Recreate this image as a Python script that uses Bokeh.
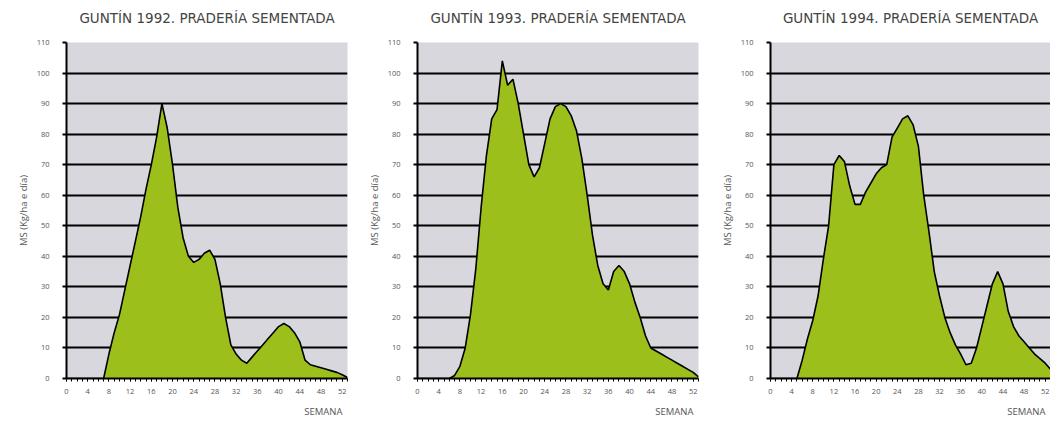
from bokeh.plotting import figure
from bokeh.layouts import row
from bokeh.models import FixedTicker, Range1d, Title
from bokeh.embed import file_html
from bokeh.resources import INLINE

weeks = list(range(0, 54))
x_tick_labels = [0, 4, 8, 12, 16, 20, 24, 28, 32, 36, 40, 44, 48, 52]
y_tick_labels = [0, 10, 20, 30, 40, 50, 60, 70, 80, 90, 100, 110]

titles = ["GUNTÍN 1992. PRADERÍA SEMENTADA",
          "GUNTÍN 1993. PRADERÍA SEMENTADA",
          "GUNTÍN 1994. PRADERÍA SEMENTADA"]

ms_1992 = [0, 0, 0, 0, 0, 0, 0, 0,
           8, 15, 21, 29, 37, 45, 53, 62, 70, 79, 90, 82, 70, 56, 46, 40, 38, 39,
           41, 42, 39, 31, 20, 11, 8, 6, 5, 7, 9, 11, 13, 15, 17, 18, 17, 15, 12,
           6, 4.5, 4, 3.5, 3, 2.5, 2, 1.2, 0.3]

ms_1993 = [0, 0, 0, 0, 0, 0, 0,
           1, 4, 10, 21, 36, 56, 73, 85, 88, 104, 96, 98, 90, 80, 70, 66, 69, 77,
           85, 89, 90, 89, 86, 81, 72, 60, 47, 37, 31, 29, 35, 37, 35, 31, 25, 20,
           14, 10, 9, 8, 7, 6, 5, 4, 3, 2, 0.5]

ms_1994 = [0, 0, 0, 0, 0, 0,
           6, 13, 19, 27, 39, 50, 70, 73, 71, 63, 57, 57, 61, 64, 67, 69, 70, 79,
           82, 85, 86, 83, 76, 60, 48, 35, 27, 20, 15, 11, 8, 4.5, 5, 10, 17, 24,
           31, 35, 31, 22, 17, 14, 12, 10, 8, 6.5, 5, 3]

series = [ms_1992, ms_1993, ms_1994]
left_borders = [66, 59, 62]
right_borders = [11, 10, 0]

FILL = "#9cbf1c"
BG = "#d7d7dd"
TXT = "#555555"

figs = []
for i in range(3):
    p = figure(frame_width=281 if i < 2 else 280, frame_height=336,
               min_border_left=left_borders[i], min_border_right=right_borders[i],
               min_border_top=42, min_border_bottom=45,
               x_range=Range1d(0, 53), y_range=Range1d(0, 110),
               output_backend="svg", toolbar_location=None,
               title=titles[i])
    p.title.align = "center"
    p.title.text_font = "DejaVu Sans"
    p.title.text_font_size = "13.5px"
    p.title.text_font_style = "normal"
    p.title.text_color = "#444444"
    p.title.standoff = 10
    # small spacer between the title and the plot frame
    p.add_layout(Title(text=" ", text_font_size="9px", standoff=0), "above")
    p.background_fill_color = BG
    p.border_fill_color = "white"
    p.outline_line_color = None

    p.varea(x=weeks, y1=0, y2=series[i], fill_color=FILL)
    p.line(x=weeks, y=series[i], line_color="black", line_width=1.6)

    # grid
    p.xgrid.grid_line_color = None
    p.ygrid.ticker = FixedTicker(ticks=[10, 20, 30, 40, 50, 60, 70, 80, 90, 100])
    p.ygrid.grid_line_color = "black"
    p.ygrid.grid_line_width = 2

    # x axis
    xa = p.xaxis[0]
    xa.ticker = FixedTicker(ticks=x_tick_labels, minor_ticks=weeks)
    xa.axis_line_color = "black"
    xa.axis_line_width = 2
    xa.major_tick_line_color = "black"
    xa.major_tick_out = 3
    xa.major_tick_in = 0
    xa.minor_tick_line_color = "black"
    xa.minor_tick_out = 3
    xa.minor_tick_in = 0
    xa.major_label_text_font = "Open Sans"
    xa.major_label_text_font_size = "7.5px"
    xa.major_label_text_color = TXT
    xa.major_label_standoff = 7

    # y axis
    ya = p.yaxis[0]
    ya.ticker = FixedTicker(ticks=y_tick_labels)
    ya.axis_line_color = "black"
    ya.axis_line_width = 2
    ya.major_tick_line_color = "black"
    ya.major_tick_line_width = 2
    ya.major_tick_out = 4
    ya.major_tick_in = 0
    ya.minor_tick_line_color = None
    ya.major_label_text_font = "Open Sans"
    ya.major_label_text_font_size = "7.5px"
    ya.major_label_text_color = TXT
    ya.major_label_standoff = 13

    p.add_layout(Title(text="SEMANA", align="right", offset=5, standoff=13,
                       text_font="Open Sans", text_font_size="9.5px",
                       text_font_style="normal", text_color=TXT), "below")
    p.add_layout(Title(text="MS (Kg/ha e día)", align="center", standoff=8,
                       text_font="Open Sans", text_font_size="9.5px",
                       text_font_style="normal", text_color=TXT), "left")
    figs.append(p)

layout = row(*figs, spacing=0)
open("out.html", "w").write(file_html(layout, INLINE))
